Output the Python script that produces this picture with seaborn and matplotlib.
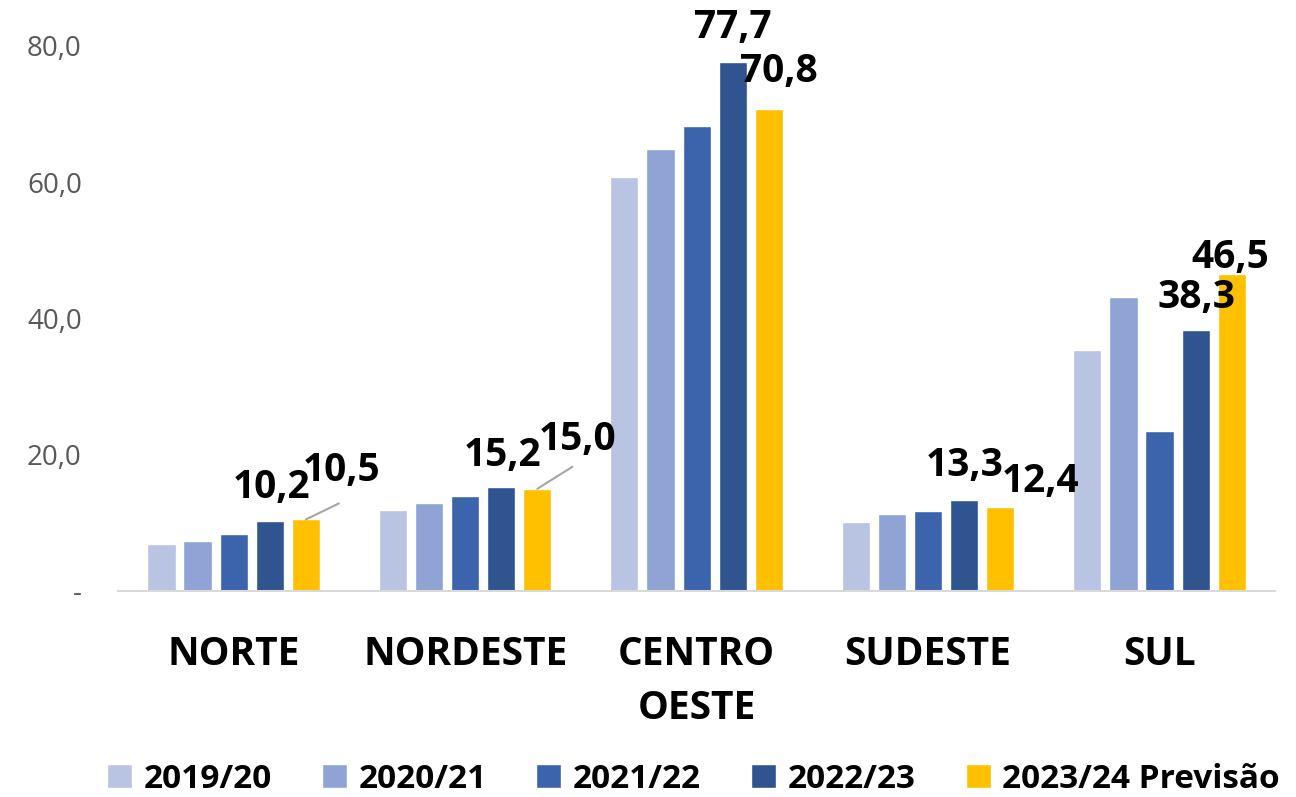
import numpy as np
import pandas as pd
import matplotlib
matplotlib.use("Agg")
import matplotlib.pyplot as plt
import seaborn as sns
from matplotlib.ticker import FuncFormatter

# Dados
regioes = ["NORTE", "NORDESTE", "CENTRO\nOESTE", "SUDESTE", "SUL"]
safras = ["2019/20", "2020/21", "2021/22", "2022/23", "2023/24 Previsão"]
v_1920 = [6.9, 11.9, 60.8, 10.1, 35.4]
v_2021 = [7.3, 12.9, 64.9, 11.3, 43.2]
v_2122 = [8.4, 13.9, 68.3, 11.7, 23.5]
v_2223 = [10.2, 15.2, 77.7, 13.3, 38.3]
v_2324 = [10.5, 15.0, 70.8, 12.4, 46.5]
cores = ["#B9C3E2", "#8FA3D4", "#3C64AC", "#305490", "#FFC000"]

df = pd.DataFrame({
    "regiao": regioes * 5,
    "safra": np.repeat(safras, 5),
    "valor": v_1920 + v_2021 + v_2122 + v_2223 + v_2324,
})

sns.set_style("white")
plt.rcParams["font.family"] = ["Open Sans", "DejaVu Sans"]

fig = plt.figure(figsize=(12.96, 7.97), dpi=100)
ax = fig.add_axes([0.091, 0.2585, 0.893, 0.6838])

sns.barplot(data=df, x="regiao", y="valor", hue="safra", hue_order=safras,
            palette=cores, width=0.78, gap=0.22, saturation=1, ax=ax,
            legend=True, errorbar=None)

ax.set_ylim(0, 80)
ax.set_yticks([0, 20, 40, 60, 80])
ax.yaxis.set_major_formatter(FuncFormatter(
    lambda v, p: "-" if v == 0 else f"{v:.1f}".replace(".", ",")))
ax.tick_params(axis="y", length=0, pad=26, labelsize=20, labelcolor="#595959")
ax.tick_params(axis="x", length=0, pad=32, labelsize=28, labelcolor="black")
for t in ax.get_xticklabels():
    t.set_fontweight("bold")
    t.set_linespacing(1.5)
ax.set_xlabel("")
ax.set_ylabel("")
for s in ["top", "right", "left"]:
    ax.spines[s].set_visible(False)
ax.spines["bottom"].set_color("#D9D9D9")
ax.spines["bottom"].set_linewidth(1.5)

# rótulos (só as duas últimas safras), deslocamentos em px
desloc = {
    3: [(2, 34), (1, 32), (0, 34), (0, 35), (1, 33)],
    4: [(36, 49), (40, 49), (10, 37), (40, 25), (-1, 17)],
}
linhas = {(4, 0): (33, 16), (4, 1): (35, 22)}
px = 72 / fig.dpi
for k, serie in [(3, v_2223), (4, v_2324)]:
    barras = ax.containers[k]
    for i, (b, val) in enumerate(zip(barras, serie)):
        xc = b.get_x() + b.get_width() / 2
        dx, dy = desloc[k][i]
        ax.annotate(f"{val:.1f}".replace(".", ","), (xc, val),
                    xytext=(dx * px, dy * px), textcoords="offset points",
                    ha="center", va="center", fontsize=28, fontweight="bold",
                    color="black", annotation_clip=False)
        if (k, i) in linhas:
            lx, ly = linhas[(k, i)]
            ax.annotate("", (xc, val), xytext=(lx * px, ly * px),
                        textcoords="offset points",
                        arrowprops=dict(arrowstyle="-", color="#A6A6A6", lw=1.5,
                                        shrinkA=0, shrinkB=0),
                        annotation_clip=False)

h, l = ax.get_legend_handles_labels()
ax.get_legend().remove()
fig.legend(h, l, loc="lower center", bbox_to_anchor=(0.535, -0.036), ncol=5,
           frameon=False, prop={"size": 24, "weight": "bold"},
           labelcolor="black",
           handlelength=0.75, handleheight=0.75, handletextpad=0.35,
           columnspacing=1.5)

fig.savefig("out.png", dpi=100)
